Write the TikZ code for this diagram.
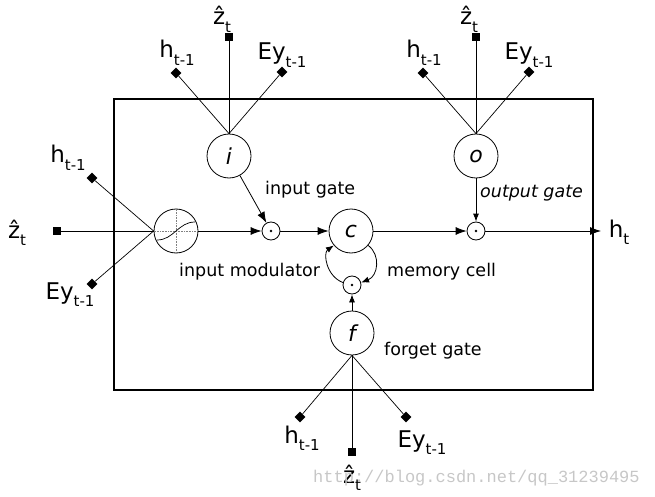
\documentclass[tikz,border=0pt]{standalone}
\usepackage{fontspec}
\setmainfont{DejaVu Sans}
\newfontfamily\wmfont{Liberation Mono}
\usetikzlibrary{shapes.geometric,arrows.meta}
\newcommand\sbs[1]{\raisebox{-7.5pt}{\fontsize{15}{15}\selectfont #1}}
\begin{document}
\begin{tikzpicture}[x=1pt,y=-1pt,
  gate/.style={circle,draw,line width=0.8pt,minimum size=44pt,inner sep=0pt,font=\fontsize{22}{22}\selectfont\itshape},
  mult/.style={circle,draw,line width=0.8pt,minimum size=18pt,inner sep=0pt},
  sq/.style={rectangle,fill=black,minimum size=8pt,inner sep=0pt},
  dia/.style={diamond,fill=black,minimum size=11pt,inner sep=0pt},
  big/.style={anchor=base,inner sep=0pt,font=\fontsize{23}{23}\selectfont},
  small/.style={anchor=base west,inner sep=0pt,font=\fontsize{17.5}{17.5}\selectfont},
  ln/.style={line width=0.7pt},
  arr/.style={line width=0.8pt,-{Latex[length=11pt,width=8pt]}},
  arrs/.style={line width=0.8pt,-{Latex[length=8pt,width=6pt]}},
]
\useasboundingbox (0,0) rectangle (655,497);
\draw[line width=1.2pt] (114,99) rectangle (593,390);

% main nodes
\node[gate] (i) at (229,156) {i};
\node[gate] (o) at (476,156) {o};
\node[gate] (c) at (351,231) {c};
\node[gate] (f) at (352,333) {f};
\node[gate,font=\normalsize] (mod) at (176,231) {};
\node[mult] (d1) at (271,231) {};
\node[mult] (d2) at (476,231) {};
\node[mult] (dm) at (352,285) {};
\fill (d1) circle (1.4pt);
\fill (d2) circle (1.4pt);
\fill (dm) circle (1.4pt);

% modulator symbol
\draw[gray,densely dotted,line width=0.6pt] (mod.north) -- (mod.south);
\draw[gray,densely dotted,line width=0.6pt] (mod.west) -- (mod.east);
\draw[line width=0.7pt] (157,240) .. controls (174,240) and (178,222) .. (195,222);

% inputs of i
\node[sq] (zi) at (229,37) {};
\node[dia] (hi) at (176,73) {};
\node[dia] (ei) at (282,72) {};
\node[big] (lzi) at (222,25) {ẑ\sbs{t}};
\node[big] (lhi) at (177,58) {h\sbs{t-1}};
\node[big] (lei) at (282,60) {Ey\sbs{t-1}};
\draw[ln] (zi) -- (i.north);
\draw[ln] (hi) -- (i.north);
\draw[ln] (ei) -- (i.north);

% inputs of o
\node[sq] (zo) at (476,37) {};
\node[dia] (ho) at (423,73) {};
\node[dia] (eo) at (529,72) {};
\node[big] (lzo) at (469,25) {ẑ\sbs{t}};
\node[big] (lho) at (424,58) {h\sbs{t-1}};
\node[big] (leo) at (529,60) {Ey\sbs{t-1}};
\draw[ln] (zo) -- (o.north);
\draw[ln] (ho) -- (o.north);
\draw[ln] (eo) -- (o.north);

% inputs of modulator
\node[sq] (zm) at (57,231) {};
\node[dia] (hm) at (92,178) {};
\node[dia] (em) at (92,284) {};
\node[big] (lzm) at (17,238) {ẑ\sbs{t}};
\node[big] (lhm) at (68,163) {h\sbs{t-1}};
\node[big] (lem) at (70,299) {Ey\sbs{t-1}};
\draw[ln] (zm) -- (mod.west);
\draw[ln] (hm) -- (mod.west);
\draw[ln] (em) -- (mod.west);

% inputs of f
\node[sq] (zf) at (352,452) {};
\node[dia] (hf) at (300,417) {};
\node[dia] (ef) at (406,417) {};
\node[big] (lzf) at (352,483) {ẑ\sbs{t}};
\node[big] (lhf) at (302,443) {h\sbs{t-1}};
\node[big] (lef) at (422,447) {Ey\sbs{t-1}};
\draw[ln] (zf) -- (f.south);
\draw[ln] (hf) -- (f.south);
\draw[ln] (ef) -- (f.south);

% output
\coordinate (htin) at (601,231);
\node[big] (ht) at (619,237) {h\sbs{t}};

% arrows
\draw[arr] (mod) -- (d1);
\draw[arr] (d1) -- (c);
\draw[arr] (c) -- (d2);
\draw[arr] (d2) -- (htin);
\draw[arr] (i) -- (d1);
\draw[arrs] (o) -- (d2);
\draw[arrs] (f) -- (dm);
\draw[arrs] (c.-40) .. controls (381,255) and (378,276) .. (dm.15);
\draw[arrs] (dm.165) .. controls (326,276) and (323,253) .. (c.-140);

% labels
\node[small] (lig) at (265,194) {input gate};
\node[small,font=\fontsize{17.5}{17.5}\selectfont\itshape] (log) at (480,197) {output gate};
\node[small] (lim) at (179,276) {input modulator};
\node[small] (lmc) at (387,276) {memory cell};
\node[small] (lfg) at (384,355) {forget gate};

% watermark
\node[anchor=base west,inner sep=0pt,font=\wmfont\fontsize{17}{17}\selectfont,text=black!22] (wm) at (313,482) {http://blog.csdn.net/qq\_31239495};
\end{tikzpicture}
\end{document}
